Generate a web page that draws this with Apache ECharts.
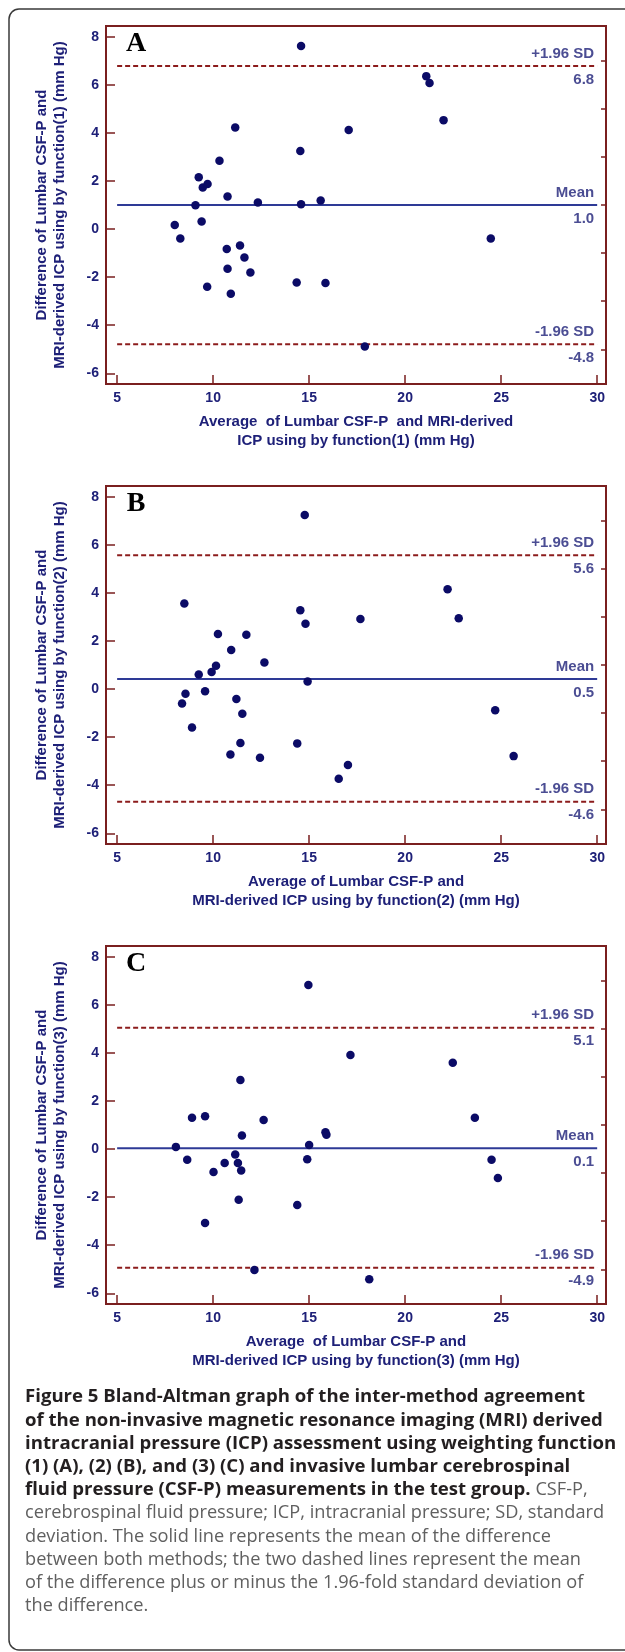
<!DOCTYPE html>
<html>
<head>
<meta charset="utf-8">
<script src="https://cdn.jsdelivr.net/npm/echarts@6/dist/echarts.min.js"></script>
<style>
html, body { margin: 0; padding: 0; background: #fff; }
#main { width: 625px; height: 1652px; }
</style>
</head>
<body>
<div id="main"></div>
<script>
// points: [average, difference]
var ptsA = [[14.58,7.61],[21.10,6.36],[21.27,6.07],[22.00,4.53],[17.06,4.12],[11.15,4.22],[14.54,3.25],[10.33,2.84],
    [9.25,2.15],[9.46,1.73],[9.71,1.87],[10.75,1.35],[9.08,0.99],[12.33,1.10],[14.58,1.03],[15.60,1.19],[8.00,0.17],
    [9.40,0.31],[8.29,-0.39],[24.46,-0.39],[10.71,-0.83],[11.40,-0.68],[11.63,-1.18],[10.75,-1.65],[11.94,-1.81],
    [14.35,-2.22],[15.85,-2.24],[9.69,-2.40],[10.92,-2.69],[17.90,-4.89]];
var ptsB = [[14.77,7.24],[8.50,3.56],[22.21,4.15],[14.54,3.28],[14.81,2.72],[17.67,2.91],[22.79,2.94],[10.25,2.29],
    [11.73,2.26],[10.94,1.62],[12.67,1.10],[10.15,0.97],[9.92,0.71],[9.25,0.60],[14.92,0.31],[8.56,-0.20],[9.58,-0.09],
    [8.38,-0.60],[11.21,-0.41],[24.69,-0.88],[11.52,-1.03],[8.90,-1.60],[11.42,-2.24],[14.38,-2.26],[10.90,-2.72],
    [12.44,-2.86],[25.65,-2.79],[17.02,-3.16],[16.54,-3.73]];
var ptsC = [[14.96,6.82],[17.15,3.91],[22.48,3.59],[11.42,2.87],[8.90,1.30],[9.58,1.36],[23.63,1.30],[12.63,1.21],
    [11.50,0.56],[15.85,0.70],[15.90,0.59],[15.00,0.17],[8.06,0.09],[8.65,-0.45],[11.15,-0.23],[10.60,-0.58],
    [11.29,-0.58],[14.90,-0.42],[24.50,-0.45],[10.02,-0.95],[11.46,-0.89],[24.83,-1.20],[11.33,-2.11],[14.38,-2.33],
    [9.58,-3.08],[12.15,-5.03],[18.13,-5.42]];

// +1.96 SD, mean, -1.96 SD
var refA = [6.78, 1.0, -4.79];
var refB = [5.56, 0.42, -4.69];
var refC = [5.05, 0.03, -4.94];
var refTextA = ['6.8', '1.0', '-4.8'];
var refTextB = ['5.6', '0.5', '-4.6'];
var refTextC = ['5.1', '0.1', '-4.9'];
var refNames = ['+1.96 SD', 'Mean', '-1.96 SD'];

var xTicks = [5, 10, 15, 20, 25, 30];
var yMajor = [-6, -4, -2, 0, 2, 4, 6, 8];
var yMinor = [-5, -3, -1, 1, 3, 5, 7];
var lineSpan = [5, 30];

var letters = ['A', 'B', 'C'];
var xTitles = [
    ['Average  of Lumbar CSF-P  and MRI-derived', 'ICP using by function(1) (mm Hg)'],
    ['Average of Lumbar CSF-P and', 'MRI-derived ICP using by function(2) (mm Hg)'],
    ['Average  of Lumbar CSF-P and', 'MRI-derived ICP using by function(3) (mm Hg)']
];
var yTitles = [
    ['Difference of Lumbar CSF-P and', 'MRI-derived ICP using by function(1) (mm Hg)'],
    ['Difference of Lumbar CSF-P and', 'MRI-derived ICP using by function(2) (mm Hg)'],
    ['Difference of Lumbar CSF-P and', 'MRI-derived ICP using by function(3) (mm Hg)']
];
var captionLines = [
    ['Figure 5 Bland-Altman graph of the inter-method agreement', ''],
    ['of the non-invasive magnetic resonance imaging (MRI) derived', ''],
    ['intracranial pressure (ICP) assessment using weighting function', ''],
    ['(1) (A), (2) (B), and (3) (C) and invasive lumbar cerebrospinal', ''],
    ['fluid pressure (CSF-P) measurements in the test group.', ' CSF-P,'],
    ['', 'cerebrospinal fluid pressure; ICP, intracranial pressure; SD, standard'],
    ['', 'deviation. The solid line represents the mean of the difference'],
    ['', 'between both methods; the two dashed lines represent the mean'],
    ['', 'of the difference plus or minus the 1.96-fold standard deviation of'],
    ['', 'the difference.']
];

var RED = '#7a1f1f', DASH = '#8c1c1c', NAVY = '#1e2078', DOT = '#0b0b66', BLUE = '#2e3a96';
var FONT = "'Liberation Sans', Arial, sans-serif";
var CAPFONT = "'Open Sans', 'Noto Sans', sans-serif";

var chart = echarts.init(document.getElementById('main'));

var panels = [
    {pts: ptsA, ref: refA, txt: refTextA},
    {pts: ptsB, ref: refB, txt: refTextB},
    {pts: ptsC, ref: refC, txt: refTextC}
];
var tops = [26, 486, 946];
var boxL = 106, boxW = 500, boxH = 358;

var grids = [], xAxes = [], yAxes = [], series = [], graphics = [];

// outer figure frame (runs off the right edge)
graphics.push({
    type: 'rect', shape: {x: 9, y: 9, width: 700, height: 1641, r: 10},
    style: {fill: 'none', stroke: '#3a3a3a', lineWidth: 1.5}, silent: true
});

panels.forEach(function (p, i) {
    var top = tops[i];
    grids.push({left: boxL, top: top, width: boxW, height: boxH, show: true,
        borderColor: RED, borderWidth: 2, backgroundColor: 'transparent'});
    xAxes.push({
        gridIndex: i, type: 'value', min: 4.42, max: 30.46,
        axisLine: {show: false, onZero: false},
        axisTick: {show: true, inside: true, length: 9, customValues: xTicks, lineStyle: {color: RED, width: 1.5}},
        axisLabel: {customValues: xTicks, margin: 7, color: NAVY, fontSize: 14, fontWeight: 'bold', fontFamily: FONT},
        splitLine: {show: false}
    });
    yAxes.push({
        gridIndex: i, type: 'value', min: -6.445, max: 8.445,
        axisLine: {show: false, onZero: false},
        axisTick: {show: true, inside: true, length: 9, customValues: yMajor, lineStyle: {color: RED, width: 1.5}},
        axisLabel: {customValues: yMajor, margin: 7, color: NAVY, fontSize: 14, fontWeight: 'bold', fontFamily: FONT},
        splitLine: {show: false}
    });
    yAxes.push({
        gridIndex: i, type: 'value', min: -6.445, max: 8.445,
        axisLine: {show: false, onZero: false},
        axisTick: {show: true, inside: true, length: 5, customValues: yMinor, lineStyle: {color: RED, width: 1.5}},
        axisLabel: {show: false},
        splitLine: {show: false}
    });

    p.ref.forEach(function (v, k) {
        series.push({
            type: 'line', xAxisIndex: i, yAxisIndex: 2 * i, symbol: 'none', silent: true, z: 3,
            data: lineSpan.map(function (x) { return [x, v]; }),
            lineStyle: {color: k === 1 ? BLUE : DASH, width: 2, type: k === 1 ? 'solid' : [5, 3]}
        });
    });

    var labelData = [];
    p.ref.forEach(function (v, k) {
        labelData.push({value: [30, v], label: {position: 'top', distance: 5, formatter: refNames[k]}});
        labelData.push({value: [30, v], label: {position: 'bottom', distance: 6, formatter: p.txt[k]}});
    });
    series.push({
        type: 'scatter', xAxisIndex: i, yAxisIndex: 2 * i, symbolSize: 0, silent: true, z: 4,
        label: {show: true, align: 'right', offset: [-3, 0], color: NAVY, fontSize: 15, fontWeight: 'bold', fontFamily: FONT},
        data: labelData
    });

    series.push({
        type: 'scatter', xAxisIndex: i, yAxisIndex: 2 * i, symbolSize: 8.5, z: 5,
        itemStyle: {color: DOT, opacity: 1}, data: p.pts
    });

    graphics.push({
        type: 'text', x: 136, y: top + 18, silent: true,
        style: {text: letters[i], font: "bold 28px 'Liberation Serif', 'Times New Roman', serif",
            fill: '#000', textAlign: 'center', textVerticalAlign: 'middle'}
    });
    xTitles[i].forEach(function (t, k) {
        graphics.push({
            type: 'text', x: boxL + boxW / 2, y: top + boxH + 38 + k * 19, silent: true,
            style: {text: t, font: 'bold 15px ' + FONT, fill: NAVY, textAlign: 'center', textVerticalAlign: 'middle'}
        });
    });
    yTitles[i].forEach(function (t, k) {
        graphics.push({
            type: 'text', x: 42 + k * 18, y: top + boxH / 2, rotation: Math.PI / 2, silent: true,
            style: {text: t, font: 'bold 15px ' + FONT, fill: NAVY, textAlign: 'center', textVerticalAlign: 'middle'}
        });
    });
});

captionLines.forEach(function (ln, k) {
    var txt = (ln[0] ? '{b|' + ln[0] + '}' : '') + (ln[1] ? '{r|' + ln[1] + '}' : '');
    graphics.push({
        type: 'text', x: 25, y: 1397 + k * 23.25, silent: true,
        style: {
            text: txt, textAlign: 'left', textVerticalAlign: 'middle',
            rich: {
                b: {fontFamily: CAPFONT, fontWeight: 'bold', fontSize: 18.6, fill: '#231f20'},
                r: {fontFamily: CAPFONT, fontWeight: 'normal', fontSize: 18.2, fill: '#606060'}
            }
        }
    });
});

var option = {
    animation: false,
    backgroundColor: '#fff',
    grid: grids,
    xAxis: xAxes,
    yAxis: yAxes,
    series: series,
    graphic: graphics
};
chart.setOption(option);
</script>
</body>
</html>
